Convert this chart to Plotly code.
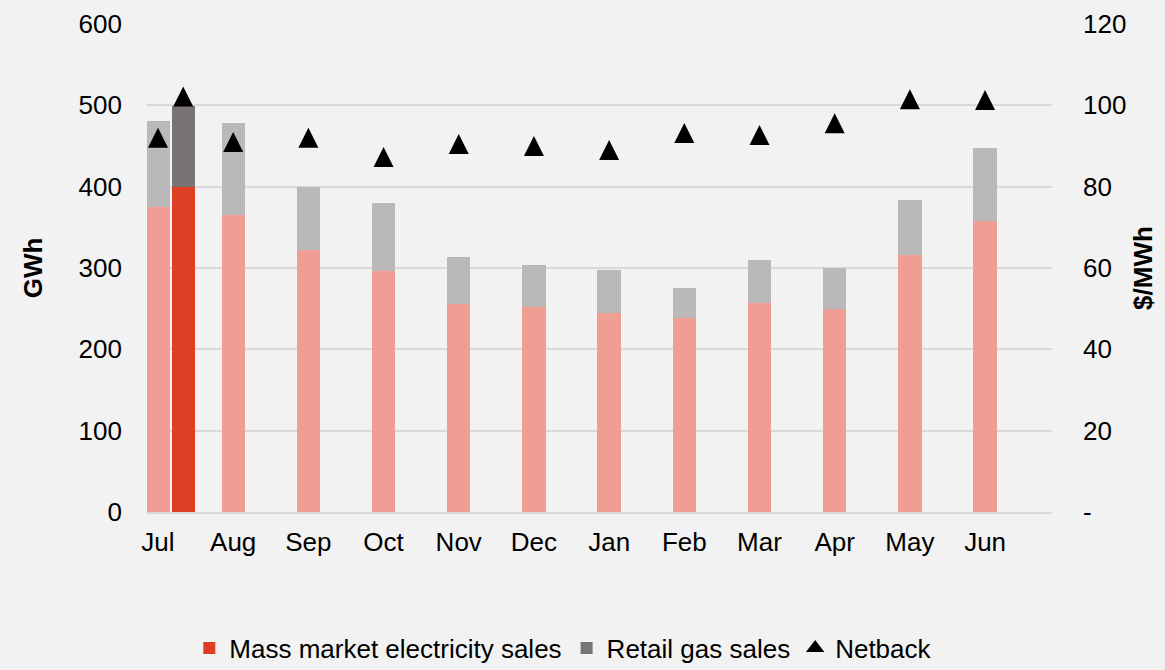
import plotly.graph_objects as go

months = ["Jul", "Aug", "Sep", "Oct", "Nov", "Dec", "Jan", "Feb", "Mar", "Apr", "May", "Jun"]
# Prior year (light bars)
prior_elec = [375, 365, 322, 296, 256, 252, 245, 238, 257, 249, 316, 358]
prior_gas = [106, 113, 77, 84, 57, 52, 53, 37, 53, 51, 68, 90]
prior_netback = [92.0, 91.0, 92.0, 87.3, 90.5, 90.0, 89.0, 93.2, 92.7, 95.6, 101.5, 101.3]
# Current year (only Jul so far)
curr_months = ["Jul"]
curr_elec = [400]
curr_gas = [99]
curr_netback = [102.2]

BAR_W = 0.31
OFFSET = 0.335
FONT = "Liberation Sans, Arial, sans-serif"
FS = 26
H, MT, MB = 670, 24, 158
TRI = 20  # triangle marker size (px); arrow-up apex sits on the point
NB_MAX = 120
# shift marker axis so the triangle is centred on its value
nb_shift = (TRI / 2) * NB_MAX / (H - MT - MB)

x_prior = [months.index(m) for m in months]
x_curr = [months.index(m) + OFFSET for m in curr_months]

tri = dict(symbol="arrow-up", size=TRI, color="#000000", line=dict(width=0))

fig = go.Figure()
fig.add_trace(go.Bar(x=x_prior, y=prior_elec, width=BAR_W, marker=dict(color="#EE9E92", line_width=0),
                     name="Mass market electricity sales (prior)", showlegend=False))
fig.add_trace(go.Bar(x=x_prior, y=prior_gas, width=BAR_W, marker=dict(color="#BAB8B8", line_width=0),
                     name="Retail gas sales (prior)", showlegend=False))
fig.add_trace(go.Bar(x=x_curr, y=curr_elec, width=BAR_W, marker=dict(color="#DE3E24", line_width=0),
                     name="Mass market electricity sales"))
fig.add_trace(go.Bar(x=x_curr, y=curr_gas, width=BAR_W, marker=dict(color="#787473", line_width=0),
                     name="Retail gas sales"))
fig.add_trace(go.Scatter(x=x_prior, y=prior_netback, yaxis="y3", mode="markers",
                         marker=tri, name="Netback (prior)", showlegend=False))
fig.add_trace(go.Scatter(x=x_curr, y=curr_netback, yaxis="y3", mode="markers",
                         marker=tri, name="Netback", showlegend=False))
# legend entry for Netback (centred triangle symbol)
fig.add_trace(go.Scatter(x=[None], y=[None], yaxis="y2", mode="markers",
                         marker=dict(symbol="triangle-up", size=18, color="#000000", line=dict(width=0)),
                         name="Netback", hoverinfo="skip"))

fig.update_layout(
    width=1165, height=H,
    barmode="stack",
    paper_bgcolor="#F2F2F2", plot_bgcolor="#F2F2F2",
    margin=dict(l=147, r=113, t=MT, b=MB, autoexpand=False),
    font=dict(family=FONT, size=FS, color="#000000"),
    xaxis=dict(
        range=[-0.146, 11.89],
        tickvals=list(range(len(months))), ticktext=months,
        showgrid=False, zeroline=False,
        showline=True, linecolor="#D9D9D9", linewidth=2,
        ticks="", ticklabelstandoff=6,
        tickfont=dict(size=FS),
    ),
    yaxis=dict(
        title=dict(text="<b>GWh</b>", font=dict(size=FS), standoff=28),
        range=[0, 600], tickvals=[0, 100, 200, 300, 400, 500, 600],
        showgrid=True, gridcolor="#D9D9D9", gridwidth=1.5,
        zeroline=False, ticks="", ticklabelstandoff=24,
        tickfont=dict(size=FS),
    ),
    yaxis2=dict(
        title=dict(text="<b>$/MWh</b>", font=dict(size=FS), standoff=8),
        overlaying="y", side="right",
        range=[0, NB_MAX], tickvals=[0, 20, 40, 60, 80, 100, 120],
        ticktext=["-", "20", "40", "60", "80", "100", "120"],
        showgrid=False, zeroline=False, ticks="", ticklabelstandoff=30,
        tickfont=dict(size=FS),
    ),
    yaxis3=dict(
        overlaying="y", side="right", visible=False,
        range=[-nb_shift, NB_MAX - nb_shift],
    ),
    legend=dict(
        orientation="h", x=0.46, xanchor="center", y=-0.279, yanchor="middle",
        font=dict(size=FS), bgcolor="rgba(0,0,0,0)",
        traceorder="normal",
    ),
    showlegend=True,
)

fig.write_html(
    "out.html",
    config={"displayModeBar": False},
    post_script="document.body.style.margin='0';document.body.style.background='#F2F2F2';",
)
